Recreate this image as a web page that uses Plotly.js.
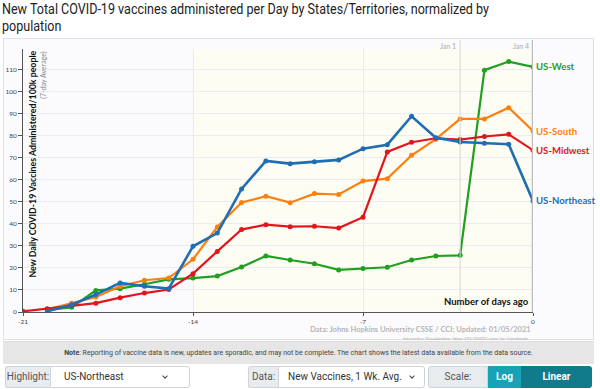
<!DOCTYPE html>
<html><head><meta charset="utf-8">
<script src="https://cdn.plot.ly/plotly-3.0.1.min.js"></script>
<style>
body{margin:0;width:600px;height:389px;overflow:hidden;background:#fff;font-family:Roboto,"Open Sans",sans-serif;position:relative}
#title{position:absolute;left:2px;top:1px;width:640px;font-size:15.5px;line-height:16.5px;color:#222;font-family:Roboto,sans-serif;transform:scaleX(0.81);transform-origin:0 0}
#card{position:absolute;left:3px;top:38px;width:591px;height:302px;border:1px solid #e2e2e2;background:#fbfbfd;box-sizing:border-box}
#chart{position:absolute;left:0;top:30px;width:600px;height:310px}
#note{position:absolute;left:3px;top:341px;width:591px;height:23px;background:#e6e6e6;font-size:7px;color:#444;text-align:center;line-height:23px;border-top:1px solid #ddd;box-sizing:border-box}
.grp{position:absolute;top:366px;height:22px;font-size:10px;color:#555;display:flex}
.lab{background:#e9ecef;border:1px solid #ced4da;border-right:none;line-height:20px;border-radius:3px 0 0 3px;text-align:center;box-sizing:border-box}
.sel{background:#fff;border:1px solid #ced4da;line-height:20px;padding-left:13px;color:#333;border-radius:0 3px 3px 0;position:relative;box-sizing:border-box;white-space:nowrap}
.chev{position:absolute;top:7px;width:3px;height:3px;border-right:1px solid #444;border-bottom:1px solid #444;transform:rotate(45deg)}
.btn{color:#fff;font-weight:bold;line-height:22px;text-align:center}
</style></head><body>
<div id="title">New Total COVID-19 vaccines administered per Day by States/Territories, normalized by population</div>
<div id="card"></div>
<div id="chart"></div>
<div id="note"><b>Note</b>: Reporting of vaccine data is new, updates are sporadic, and may not be complete. The chart shows the latest data available from the data source.</div>
<div class="grp" style="left:5px"><div class="lab" style="width:45px">Highlight:</div><div class="sel" style="width:140px">US-Northeast<span class="chev" style="left:112px"></span></div></div>
<div class="grp" style="left:248px"><div class="lab" style="width:30px">Data:</div><div class="sel" style="width:147px;padding-left:9px">New Vaccines, 1 Wk. Avg.<span class="chev" style="left:131px"></span></div></div>
<div class="grp" style="left:428px"><div class="lab" style="width:60px;border-right:1px solid #ced4da">Scale:</div><div class="btn" style="width:33px;background:#17a2b8">Log</div><div class="btn" style="width:71px;background:#117a8b;border-radius:0 3px 3px 0">Linear</div></div>
<script>
const daysAgo = [-21,-20,-19,-18,-17,-16,-15,-14,-13,-12,-11,-10,-9,-8,-7,-6,-5,-4,-3,-2,-1,0];
const regions = ["US-West","US-South","US-Midwest","US-Northeast"];
const westVals =      [null,1.0,2.1,9.8,10.6,12.6,14.8,15.4,16.3,20.4,25.4,23.6,21.9,19.1,19.7,20.3,23.6,25.4,25.7,109.7,113.6,111.2];
const southVals =     [null,1.2,4.0,6.8,11.7,14.4,15.4,23.9,38.6,49.7,52.5,49.6,53.7,53.3,59.4,60.5,71.1,78.4,87.6,87.6,92.7,82.1];
const midwestVals =   [0.3,1.5,3.0,4.0,6.5,8.6,10.2,17.4,27.5,37.4,39.6,38.7,38.9,38.1,43.0,72.6,77.0,78.8,78.2,79.6,80.6,73.4];
const northeastVals = [null,0.3,3.3,7.9,13.2,11.7,10.6,29.8,35.8,55.8,68.5,67.3,68.1,69.0,74.1,75.9,88.8,79.0,77.1,76.5,76.1,50.4];
const colors = ["#1fa01f","#ff7f0e","#e4141c","#1f6db3"];
const yTicks = [0,10,20,30,40,50,60,70,80,90,100,110];
const xTicks = [-21,-14,-7,0];
const dateMarks = [{x:-3,label:"Jan 1"},{x:0,label:"Jan 4"}];

const series = [westVals,southVals,midwestVals,northeastVals];
const traces = series.map((v,i)=>({
  x: daysAgo, y: v, type:"scatter", mode:"lines+markers", name: regions[i],
  line:{color:colors[i], width: i===3?2.6:2.2}, marker:{color:colors[i], size:5},
  connectgaps:false, hoverinfo:"skip"
}));

const annotations = series.map((v,i)=>({
  x: daysAgo[daysAgo.length-1], y: v[v.length-1], xref:"x", yref:"y",
  text: regions[i], showarrow:false, xanchor:"left", xshift:1,
  font:{family:"Lato, Roboto, sans-serif", size:9.6, color:colors[i], weight:"bold"}
}));
annotations.push(
  {xref:"paper", yref:"paper", x:0.003, y:1, xanchor:"left", yanchor:"top", textangle:-90, showarrow:false,
   text:"<b>New Daily COVID-19 Vaccines Administered/100k people</b>", font:{family:"Lato, Roboto, sans-serif", size:8.8, color:"#111"}},
  {xref:"paper", yref:"paper", x:0.026, y:1, xanchor:"left", yanchor:"top", textangle:-90, showarrow:false,
   text:"(7-day Average)", font:{family:"Lato, Roboto, sans-serif", size:7, color:"#888"}},
  {xref:"paper", yref:"paper", x:0.997, y:0.01, xanchor:"right", yanchor:"bottom", showarrow:false,
   text:"<b>Number of days ago</b>", font:{family:"Lato, Roboto, sans-serif", size:9.5, color:"#111"}},
  {xref:"paper", yref:"paper", x:1, y:-0.04, xanchor:"right", yanchor:"top", showarrow:false,
   text:"<b>Data: Johns Hopkins University CSSE / CCI; Updated: 01/05/2021</b>", font:{family:"Lato, Roboto, sans-serif", size:7.5, color:"#b5b5b5"}},
  {xref:"paper", yref:"paper", x:1, y:-0.085, xanchor:"right", yanchor:"top", showarrow:false,
   text:"Interactive Visualization: https://91-DIVOC.com/ by @profwade_", font:{family:"Lato, Roboto, sans-serif", size:4.5, color:"#aaa"}}
);
dateMarks.forEach(d=>annotations.push({xref:"x", yref:"paper", x:d.x, y:1.011, xanchor:"right", yanchor:"middle", xshift:-2, showarrow:false,
  text:d.label, font:{family:"Lato, Roboto, sans-serif", size:7, color:"#aaa"}}));

const shapes = [
  {type:"rect", xref:"x", yref:"paper", x0:-14, x1:0, y0:0, y1:1, fillcolor:"#fdfdf3", line:{width:0}, layer:"below"},
  {type:"line", xref:"x", yref:"paper", x0:dateMarks[0].x, x1:dateMarks[0].x, y0:0, y1:1.034, line:{color:"#d6d6d6", width:1}},
  {type:"line", xref:"x", yref:"paper", x0:dateMarks[1].x, x1:dateMarks[1].x, y0:0, y1:1.034, line:{color:"#bdbdc4", width:2.5}}
];

const layout = {
  width:600, height:310, margin:{l:23, r:67, t:19, b:28},
  paper_bgcolor:"rgba(0,0,0,0)", plot_bgcolor:"rgba(0,0,0,0)",
  showlegend:false,
  xaxis:{range:[-21,0], tickvals:xTicks, ticktext:xTicks.map(String), showgrid:true, gridcolor:"#ece9f2",
    zeroline:false, showline:true, linecolor:"#555", linewidth:1, ticks:"outside", ticklen:3, tickcolor:"#555",
    tickfont:{family:"Lato, Roboto, sans-serif", size:6.5, color:"#444"}},
  yaxis:{range:[0,119.3], tickvals:yTicks, showgrid:true, gridcolor:"#ecebf1", zeroline:false,
    showline:true, linecolor:"#555", linewidth:1, ticks:"outside", ticklen:4, tickcolor:"#555",
    tickfont:{family:"Lato, Roboto, sans-serif", size:6.5, color:"#444"}},
  annotations: annotations, shapes: shapes,
  font:{family:"Lato, Roboto, sans-serif"}
};
Plotly.newPlot("chart", traces, layout, {displayModeBar:false, staticPlot:true});
</script>
</body></html>
